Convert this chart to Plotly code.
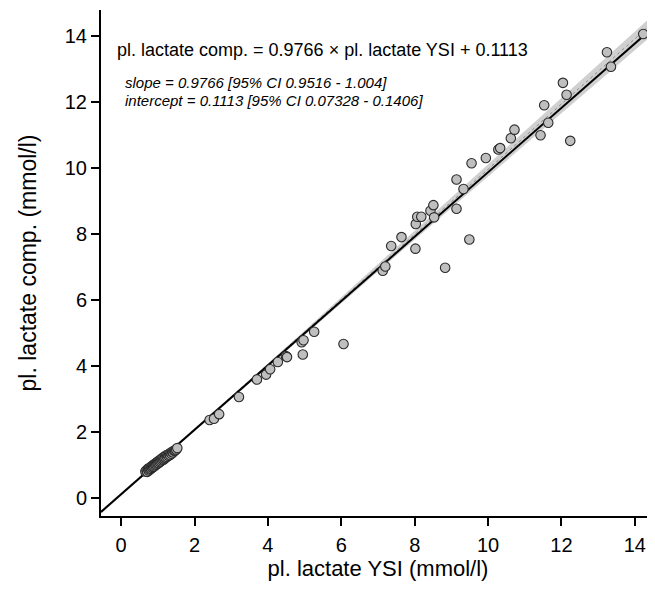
import plotly.graph_objects as go

# regression result (from the annotation)
slope = 0.9766
intercept = 0.1113

# measured pairs: YSI reference vs computed lactate (mmol/l)
ysi = [
    0.66, 0.69, 0.71, 0.73, 0.75, 0.76, 0.78, 0.80, 0.81, 0.83, 0.84, 0.86,
    0.87, 0.89, 0.90, 0.92, 0.93, 0.95, 0.96, 0.98, 0.99, 1.01, 1.02, 1.04,
    1.05, 1.07, 1.08, 1.10, 1.11, 1.13, 1.15, 1.16, 1.18, 1.20, 1.21, 1.23,
    1.25, 1.27, 1.29, 1.31, 1.33, 1.35, 1.37, 1.39, 1.41, 1.44, 1.47, 1.50,
    1.53,
    2.41, 2.53, 2.67, 3.21, 3.70, 3.95, 4.06, 4.27, 4.49, 4.52, 4.95, 4.92,
    4.97, 5.26, 6.06,
    7.13, 7.20, 7.36, 7.64, 8.02, 8.03, 8.07, 8.18, 8.43, 8.51, 8.53, 8.83,
    9.14, 9.14, 9.33, 9.49, 9.55, 9.94, 10.28, 10.33, 10.62, 10.72, 11.43,
    11.53, 11.64, 12.04, 12.14, 12.24, 13.24, 13.35, 14.23,
]
comp = [
    0.80, 0.84, 0.79, 0.88, 0.83, 0.90, 0.86, 0.93, 0.88, 0.96, 0.91, 0.98,
    0.94, 1.01, 0.96, 1.03, 0.99, 1.06, 1.01, 1.08, 1.04, 1.11, 1.06, 1.13,
    1.09, 1.16, 1.11, 1.18, 1.14, 1.21, 1.16, 1.24, 1.19, 1.26, 1.22, 1.29,
    1.25, 1.31, 1.28, 1.34, 1.30, 1.37, 1.34, 1.40, 1.38, 1.43, 1.44, 1.47,
    1.51,
    2.36, 2.40, 2.54, 3.06, 3.59, 3.74, 3.90, 4.12, 4.30, 4.27, 4.35, 4.72,
    4.78, 5.04, 4.67,
    6.89, 7.02, 7.64, 7.91, 7.56, 8.31, 8.53, 8.53, 8.71, 8.88, 8.51, 6.98,
    9.66, 8.77, 9.37, 7.84, 10.15, 10.31, 10.57, 10.61, 10.91, 11.17, 11.00,
    11.91, 11.38, 12.59, 12.23, 10.83, 13.52, 13.08, 14.07,
]

# confidence band and dotted reference line
band_x = [-0.55, 1, 3, 5, 7, 9, 11, 13, 14.55]
band_lo = [-0.48, 1.05, 3.00, 4.94, 6.87, 8.79, 10.71, 12.63, 14.11]
band_hi = [-0.38, 1.13, 3.09, 5.08, 7.09, 9.10, 11.12, 13.14, 14.70]
dotted_y = [-0.43, 1.09, 3.05, 5.02, 7.00, 8.98, 10.95, 12.93, 14.47]

x_range = [-0.55, 14.55]
y_range = [-0.55, 14.8]

font = "Liberation Sans, Arial, Helvetica, sans-serif"

fig = go.Figure()

fig.add_trace(go.Scatter(
    x=band_x + band_x[::-1], y=band_hi + band_lo[::-1], mode="lines",
    fill="toself", fillcolor="#d0d0d0", line=dict(width=0),
    hoverinfo="skip", showlegend=False,
))
fig.add_trace(go.Scatter(
    x=band_x, y=dotted_y, mode="lines",
    line=dict(color="#888888", width=1, dash="dot"), showlegend=False,
))
fig.add_trace(go.Scatter(
    x=x_range, y=[slope * v + intercept for v in x_range], mode="lines",
    line=dict(color="black", width=2), showlegend=False,
))
fig.add_trace(go.Scatter(
    x=ysi, y=comp, mode="markers",
    marker=dict(size=9.5, color="#bfbfbf", line=dict(color="#2a2a2a", width=1.1)),
    showlegend=False,
))

fig.add_annotation(
    x=0.025, y=0.92, xref="paper", yref="paper", xanchor="left", yanchor="middle",
    text=f"pl. lactate comp. = {slope} × pl. lactate YSI + {intercept}",
    showarrow=False, font=dict(size=18, color="black"),
)
fig.add_annotation(
    x=0.04, y=0.857, xref="paper", yref="paper", xanchor="left", yanchor="middle",
    text="<i>slope = 0.9766 [95% CI 0.9516 - 1.004]</i>",
    showarrow=False, font=dict(size=15, color="black"),
)
fig.add_annotation(
    x=0.04, y=0.822, xref="paper", yref="paper", xanchor="left", yanchor="middle",
    text="<i>intercept = 0.1113 [95% CI 0.07328 - 0.1406]</i>",
    showarrow=False, font=dict(size=15, color="black"),
)

axis_style = dict(
    tickvals=[0, 2, 4, 6, 8, 10, 12, 14],
    showgrid=False, zeroline=False, showline=True, linecolor="black", linewidth=2,
    ticks="outside", ticklen=8, tickwidth=1.5, tickcolor="black",
    tickfont=dict(size=20),
)
fig.update_xaxes(
    range=x_range, **axis_style, ticklabelstandoff=2,
    title=dict(text="pl. lactate YSI (mmol/l)", font=dict(size=22), standoff=4),
)
fig.update_yaxes(
    range=y_range, **axis_style, ticklabelstandoff=0,
    title=dict(text="pl. lactate comp. (mmol/l)", font=dict(size=23), standoff=22),
)

# the page body adds an 8px offset, so the figure is sized and placed to land
# the plot area on the same pixels as the reference
fig.update_layout(
    width=647, height=581,
    margin=dict(l=93, r=0, t=2, b=73),
    plot_bgcolor="white", paper_bgcolor="white",
    font=dict(family=font, color="black"),
)

fig.write_html("out.html")
